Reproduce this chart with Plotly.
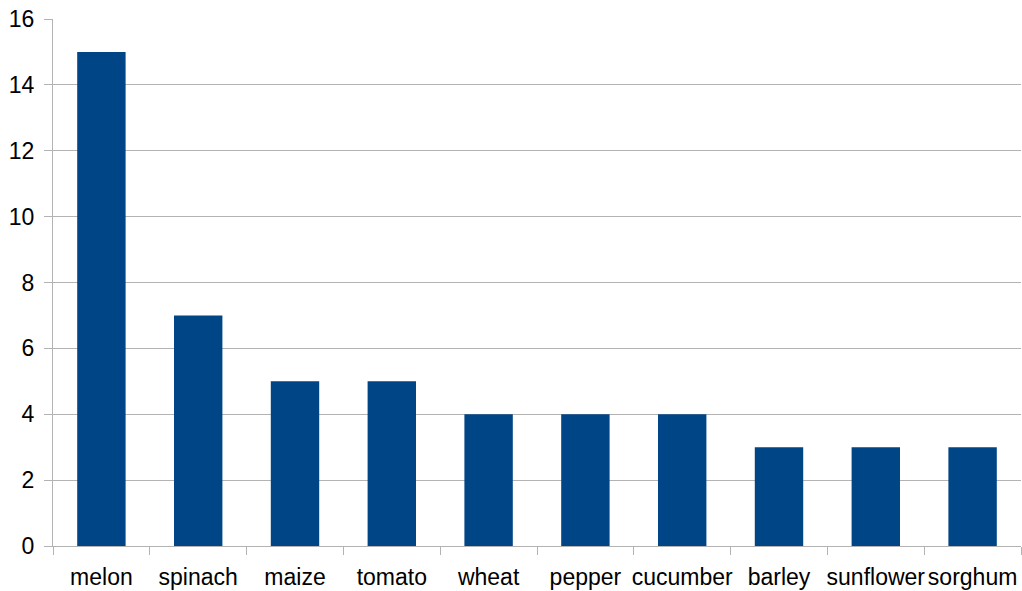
import plotly.graph_objects as go

categories = ["melon", "spinach", "maize", "tomato", "wheat", "pepper", "cucumber", "barley", "sunflower", "sorghum"]
values = [15, 7, 5, 5, 4, 4, 4, 3, 3, 3]
y_ticks = [0, 2, 4, 6, 8, 10, 12, 14, 16]

fig = go.Figure(go.Bar(x=categories, y=values, marker=dict(color="#004586", line=dict(width=0))))

fig.update_layout(
    width=1022, height=591,
    margin=dict(l=53, r=1, t=19, b=45, autoexpand=False),
    plot_bgcolor="white", paper_bgcolor="white",
    bargap=0.5,
    showlegend=False,
    font=dict(family="Liberation Sans, Arial, sans-serif", size=23, color="black"),
)
fig.update_xaxes(
    showgrid=False, showline=True, linecolor="#b3b3b3", linewidth=1,
    ticks="outside", tickson="boundaries", ticklen=8, tickcolor="#b3b3b3",
    tickangle=0, automargin=False, ticklabelstandoff=10,
    tickfont=dict(size=23, color="black"),
)
fig.update_yaxes(
    range=[0, 16], tickvals=y_ticks, showgrid=True, gridcolor="#b3b3b3", gridwidth=1,
    showline=True, linecolor="#b3b3b3", linewidth=1,
    ticks="outside", ticklen=8, tickcolor="#b3b3b3", zeroline=False,
    automargin=False, ticklabelstandoff=5,
    tickfont=dict(size=23, color="black"),
)

post = ("document.documentElement.style.margin='0';document.documentElement.style.padding='0';"
        "document.body.style.margin='0';document.body.style.padding='0';"
        "document.documentElement.style.overflow='hidden';document.body.style.overflow='hidden';")
fig.write_html("out.html", post_script=post, config={"displayModeBar": False})
